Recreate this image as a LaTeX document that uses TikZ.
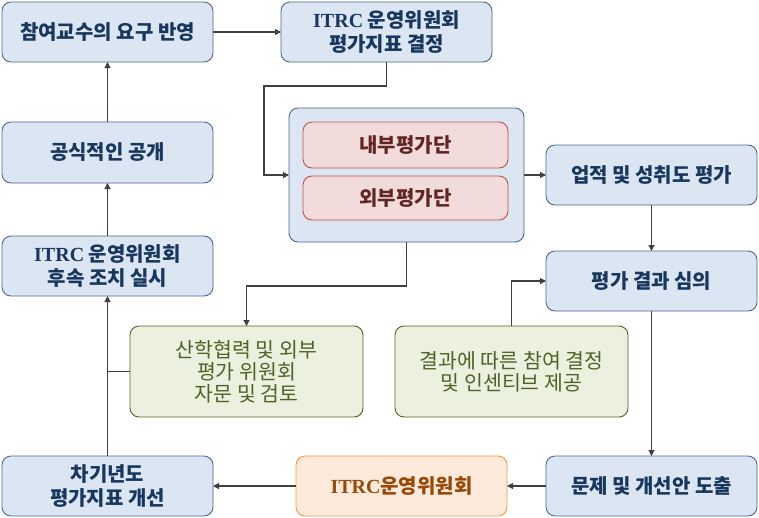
\documentclass[tikz,border=0pt]{standalone}
\usepackage{fontspec}
\setmainfont{Noto Sans CJK KR}
\newfontfamily\lat{Liberation Serif}
\usetikzlibrary{arrows.meta,calc}
\definecolor{bfill}{HTML}{DCE6F2}
\definecolor{bdraw}{HTML}{4A6890}
\definecolor{btext}{HTML}{17375E}
\definecolor{rfill}{HTML}{F2DCDB}
\definecolor{rdraw}{HTML}{C0504D}
\definecolor{rtext}{HTML}{632523}
\definecolor{gfill}{HTML}{EBF1DE}
\definecolor{gdraw}{HTML}{4F6228}
\definecolor{gtext}{HTML}{4F6228}
\definecolor{ofill}{HTML}{FDEADA}
\definecolor{odraw}{HTML}{F79646}
\definecolor{otext}{HTML}{984807}
\definecolor{conn}{HTML}{404040}
\newcommand{\IT}{{\lat\bfseries ITRC}}
\tikzset{
  box/.style={rounded corners=9pt, line width=0.9pt, inner sep=0pt, outer sep=0pt, align=center, font=\fontsize{20}{24}\selectfont\bfseries},
  bluebox/.style={box, fill=bfill, draw=bdraw, text=btext, minimum width=211pt, minimum height=60pt},
  redbox/.style={box, fill=rfill, draw=rdraw, text=rtext, minimum width=205pt},
  greenbox/.style={box, fill=gfill, draw=gdraw, text=gtext, minimum width=233pt, minimum height=91pt, font=\fontsize{20.5}{22}\selectfont},
  orangebox/.style={box, fill=ofill, draw=odraw, text=otext, minimum width=211pt, minimum height=60pt},
  arr/.style={draw=conn, line width=1.1pt, -{Triangle[length=6pt,width=6pt]}},
  ln/.style={draw=conn, line width=1.1pt}
}
\begin{document}
\begin{tikzpicture}[x=1pt,y=-1pt]
\useasboundingbox (0,0) rectangle (759,517);
\node[bluebox] (A) at (107.5,32) {참여교수의 요구 반영};
\node[bluebox] (B) at (386.5,32) {\IT{} 운영위원회\\평가지표 결정};
\node[bluebox, minimum height=61pt] (D) at (107.5,152.5) {공식적인 공개};
\node[box, fill=bfill, draw=bdraw, minimum width=235pt, minimum height=134pt] (C) at (406.5,175) {};
\node[redbox, minimum height=46pt] (C1) at (405.5,145) {내부평가단};
\node[redbox, minimum height=44pt] (C2) at (405.5,198) {외부평가단};
\node[bluebox] (E) at (107.5,266) {\IT{} 운영위원회\\후속 조치 실시};
\node[bluebox] (F) at (651.5,175) {업적 및 성취도 평가};
\node[bluebox] (G) at (651.5,281) {평가 결과 심의};
\node[greenbox] (H) at (246.5,371.5) {산학협력 및 외부\\평가 위원회\\자문 및 검토};
\node[greenbox] (I) at (511.5,371.5) {결과에 따른 참여 결정\\및 인센티브 제공};
\node[bluebox] (J) at (107.5,486) {차기년도\\평가지표 개선};
\node[orangebox] (K) at (401.5,486) {\IT{}운영위원회};
\node[bluebox] (L) at (651.5,486) {문제 및 개선안 도출};
\coordinate (b1) at (264,86);
\draw[arr] (A.east) -- (B.west);
\draw[arr] (B.south) -- (B.south |- b1) -- (b1) |- (C.west);
\draw[arr] (C.east) -- (F.west);
\draw[arr] (C.south) -- ++(0,44) -| (H.north);
\draw[arr] (F.south) -- (G.north);
\draw[arr] (I.north) |- (G.west);
\draw[arr] (G.south) -- (L.north);
\draw[arr] (L.west) -- (K.east);
\draw[arr] (K.west) -- (J.east);
\draw[arr] (J.north) -- (E.south);
\draw[arr] (E.north) -- (D.south);
\draw[arr] (D.north) -- (A.south);
\draw[ln] (H.west) -- (H.west -| J.north);
\end{tikzpicture}
\end{document}
